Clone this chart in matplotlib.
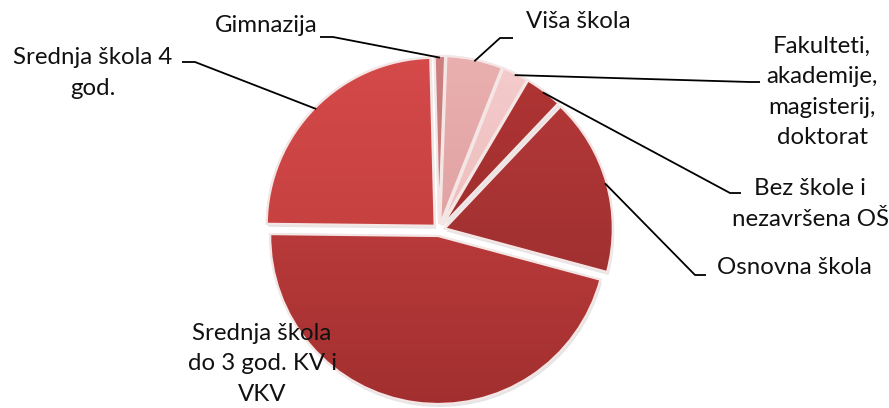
import numpy as np
import matplotlib
matplotlib.use("Agg")
import matplotlib.pyplot as plt
from matplotlib.colors import to_rgb
from matplotlib.patches import Wedge

categories = ["Gimnazija", "Viša škola", "Fakulteti,\nakademije,\nmagisterij,\ndoktorat",
              "Bez škole i\nnezavršena OŠ", "Osnovna škola",
              "Srednja škola\ndo 3 god. KV i\nVKV", "Srednja škola 4\ngod."]
values = [1.0, 5.4, 2.5, 3.6, 17.1, 46.0, 24.4]
colors_top = ["#cf8080", "#eab0b0", "#f5cccc", "#b33636", "#b83a3a", "#d24646", "#d64a4a"]
colors_bot = ["#b86a6a", "#d89494", "#e6b0b0", "#8e2525", "#922a2a", "#a02e2e", "#b83838"]

W, H = 889, 408
fig = plt.figure(figsize=(W / 100, H / 100), dpi=100)
ax = fig.add_axes([0, 0, 1, 1])

cx, cy, R = 439, H - 230, 168
wedges, _ = ax.pie(values, startangle=91.5, counterclock=False, center=(cx, cy), radius=R,
                   explode=[0.036 * R] * len(values), frame=True,
                   wedgeprops=dict(linewidth=1.5, edgecolor="#f3e3e3"))
ax.set_xlim(0, W)
ax.set_ylim(0, H)
ax.set_aspect("equal")
ax.axis("off")

# soft shadow under the pie
for w in wedges:
    sh = Wedge((w.center[0] + 1.5, w.center[1] - 3), w.r, w.theta1, w.theta2,
               facecolor="#000000", alpha=0.10, edgecolor="none", zorder=w.get_zorder() - 0.5)
    ax.add_patch(sh)

# gradient fill clipped to each wedge
for w, ct, cb in zip(wedges, colors_top, colors_bot):
    w.set_facecolor(ct)
    t = np.linspace(0, 1, 256)[:, None]
    c1, c2 = np.array(to_rgb(ct)), np.array(to_rgb(cb))
    img = (c1[None, None, :] * (1 - t[..., None]) + c2[None, None, :] * t[..., None])
    img = np.repeat(img, 2, axis=1)
    im = ax.imshow(img, extent=(cx - R - 20, cx + R + 20, cy - R - 20, cy + R + 20),
                   origin="upper", aspect="auto", zorder=w.get_zorder() + 0.1)
    im.set_clip_path(w)
    edge = Wedge(w.center, w.r, w.theta1, w.theta2, facecolor="none",
                 edgecolor="#f5e6e6", linewidth=1.6, zorder=w.get_zorder() + 0.2)
    ax.add_patch(edge)
ax.set_xlim(0, W)
ax.set_ylim(0, H)

fs = 17.3
ls = 1.55
font = "Lato"

def anchor(i, frac=1.0):
    w = wedges[i]
    a = np.deg2rad((w.theta1 + w.theta2) / 2)
    return w.center[0] + w.r * frac * np.cos(a), w.center[1] + w.r * frac * np.sin(a)

def py(y):
    return H - y

labels_layout = {
    0: dict(elbow=(333, 37), end=(320, 37), text=(266, 25)),
    1: dict(elbow=(500, 38), end=(513, 38), text=(578, 22)),
    2: dict(elbow=(750, 82), end=(760, 82), text=(822, 92)),
    3: dict(elbow=(730, 193), end=(741, 193), text=(810, 204)),
    4: dict(elbow=(695, 275), end=(706, 275), text=(794, 268)),
    6: dict(elbow=(195, 62), end=(182, 62), text=(93, 73)),
}
for i, lay in labels_layout.items():
    x0, y0 = anchor(i, 0.99)
    ex, ey = lay["elbow"]
    fx, fy = lay["end"]
    ax.plot([x0, ex, fx], [y0, py(ey), py(fy)], color="black", lw=1.3, zorder=10,
            solid_capstyle="butt")
    ax.text(lay["text"][0], py(lay["text"][1]), categories[i], ha="center", va="center",
            fontsize=fs, family=font, linespacing=ls, color="#111111", zorder=11)

ax.text(262, py(364), categories[5], ha="center", va="center", fontsize=fs, family=font,
        linespacing=ls, color="#111111", zorder=11)

fig.savefig("out.png", dpi=100)
